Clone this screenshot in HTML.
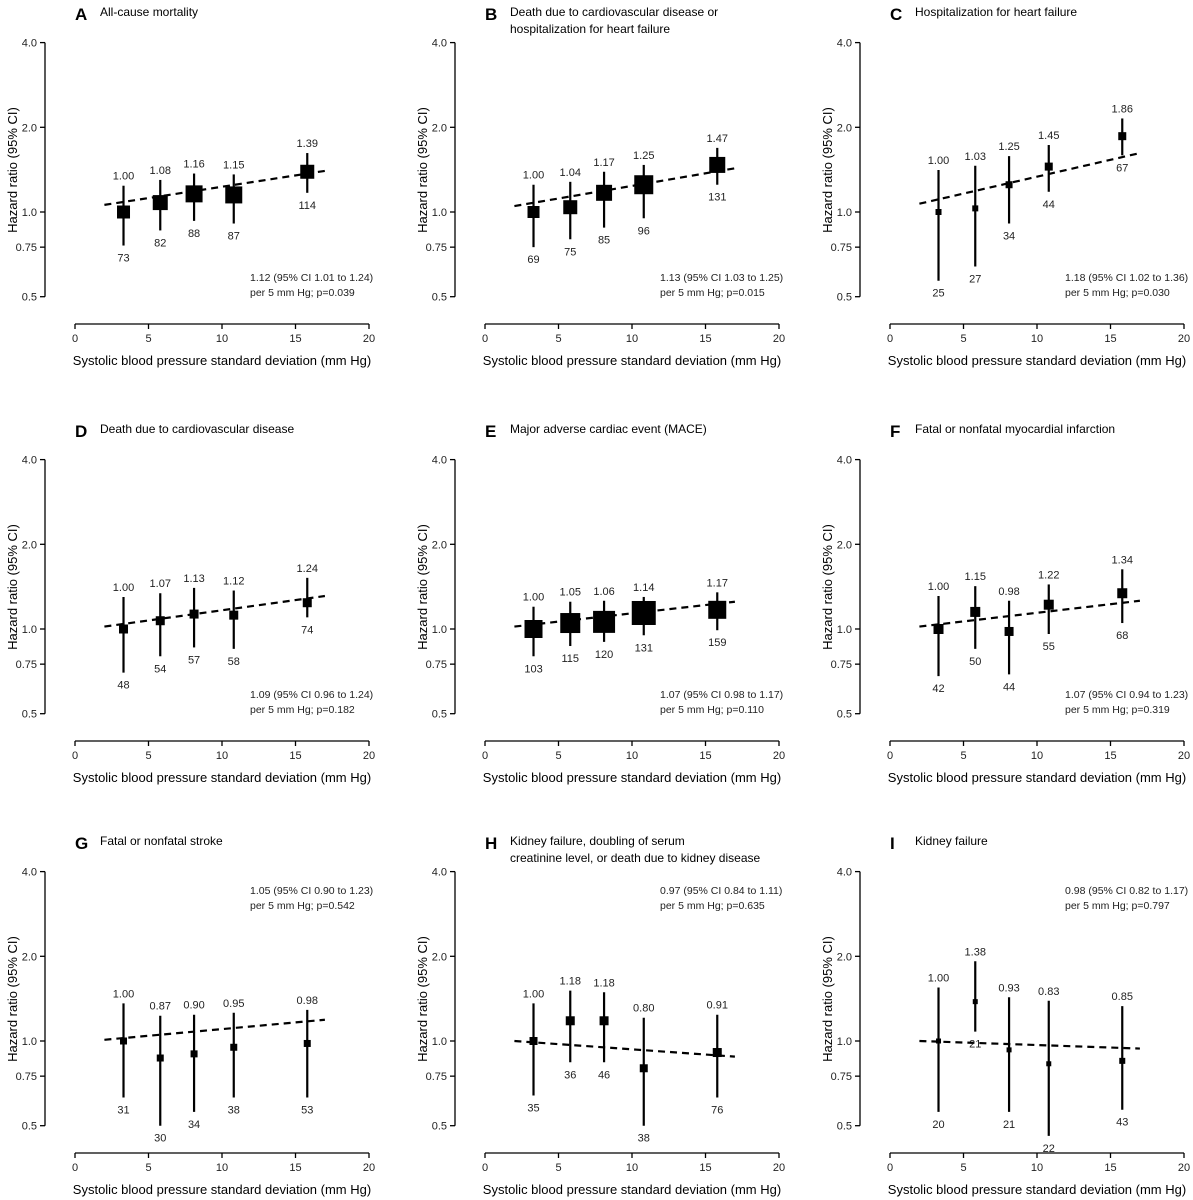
<!DOCTYPE html>
<html><head><meta charset="utf-8"><style>
body{margin:0;background:#fff}
svg{display:block;font-family:"Liberation Sans",Arial,sans-serif}
</style></head><body>
<svg id="chart" width="1193" height="1200" xmlns="http://www.w3.org/2000/svg"></svg>
<script>
const xVals = [3.3, 5.8, 8.1, 10.8, 15.8];
const letters = ["A","B","C","D","E","F","G","H","I"];
const titles = [["All-cause mortality"],["Death due to cardiovascular disease or","hospitalization for heart failure"],["Hospitalization for heart failure"],["Death due to cardiovascular disease"],["Major adverse cardiac event (MACE)"],["Fatal or nonfatal myocardial infarction"],["Fatal or nonfatal stroke"],["Kidney failure, doubling of serum","creatinine level, or death due to kidney disease"],["Kidney failure"]];
const hrA=[1.00,1.08,1.16,1.15,1.39], loA=[0.76,0.86,0.93,0.91,1.17], hiA=[1.24,1.30,1.37,1.36,1.62], evA=[73,82,88,87,114];
const hrB=[1.00,1.04,1.17,1.25,1.47], loB=[0.75,0.80,0.88,0.95,1.25], hiB=[1.25,1.28,1.39,1.47,1.69], evB=[69,75,85,96,131];
const hrC=[1.00,1.03,1.25,1.45,1.86], loC=[0.57,0.64,0.91,1.18,1.59], hiC=[1.41,1.46,1.58,1.73,2.15], evC=[25,27,34,44,67];
const hrD=[1.00,1.07,1.13,1.12,1.24], loD=[0.70,0.80,0.86,0.85,1.10], hiD=[1.30,1.34,1.40,1.37,1.52], evD=[48,54,57,58,74];
const hrE=[1.00,1.05,1.06,1.14,1.17], loE=[0.80,0.87,0.90,0.95,0.99], hiE=[1.20,1.25,1.26,1.30,1.35], evE=[103,115,120,131,159];
const hrF=[1.00,1.15,0.98,1.22,1.34], loF=[0.68,0.85,0.69,0.96,1.05], hiF=[1.31,1.42,1.26,1.44,1.63], evF=[42,50,44,55,68];
const hrG=[1.00,0.87,0.90,0.95,0.98], loG=[0.63,0.50,0.56,0.63,0.63], hiG=[1.36,1.23,1.24,1.26,1.29], evG=[31,30,34,38,53];
const hrH=[1.00,1.18,1.18,0.80,0.91], loH=[0.64,0.84,0.84,0.50,0.63], hiH=[1.36,1.51,1.49,1.21,1.24], evH=[35,36,46,38,76];
const hrI=[1.00,1.38,0.93,0.83,0.85], loI=[0.56,1.08,0.56,0.46,0.57], hiI=[1.55,1.92,1.43,1.39,1.33], evI=[20,21,21,22,43];
const trendStart=[1.06,1.05,1.07,1.02,1.02,1.02,1.01,1.00,1.00];
const trendEnd=[1.40,1.43,1.62,1.31,1.25,1.26,1.19,0.88,0.94];
const stats=[["1.12 (95% CI 1.01 to 1.24)","per 5 mm Hg; p=0.039"],["1.13 (95% CI 1.03 to 1.25)","per 5 mm Hg; p=0.015"],["1.18 (95% CI 1.02 to 1.36)","per 5 mm Hg; p=0.030"],["1.09 (95% CI 0.96 to 1.24)","per 5 mm Hg; p=0.182"],["1.07 (95% CI 0.98 to 1.17)","per 5 mm Hg; p=0.110"],["1.07 (95% CI 0.94 to 1.23)","per 5 mm Hg; p=0.319"],["1.05 (95% CI 0.90 to 1.23)","per 5 mm Hg; p=0.542"],["0.97 (95% CI 0.84 to 1.11)","per 5 mm Hg; p=0.635"],["0.98 (95% CI 0.82 to 1.17)","per 5 mm Hg; p=0.797"]];
const yTicks=[4.0,2.0,1.0,0.75,0.5];
const yTickLabels=["4.0","2.0","1.0","0.75","0.5"];
const xTicks=[0,5,10,15,20];
const panels=[[hrA,loA,hiA,evA],[hrB,loB,hiB,evB],[hrC,loC,hiC,evC],[hrD,loD,hiD,evD],[hrE,loE,hiE,evE],[hrF,loF,hiF,evF],[hrG,loG,hiG,evG],[hrH,loH,hiH,evH],[hrI,loI,hiI,evI]];
const sqSizes=[[13,15,17,17,14],[12,14,16,19,16],[6,6,7,8,8],[9,9,9,9,9],[18,20,22,24,18],[10,10,9,10,10],[7,7,7,7,7],[8,9,9,8,9],[5,5,5,5,6]];

const svg=document.getElementById('chart');
const NS="http://www.w3.org/2000/svg";
function mk(tag,attrs,parent){const e=document.createElementNS(NS,tag);for(const k in attrs)e.setAttribute(k,attrs[k]);parent.appendChild(e);return e;}
function txt(s,attrs,parent){const e=mk('text',attrs,parent);e.textContent=s;return e;}

const rowY4=[43,460,872];
const colX=[0,410,815];
for(let p=0;p<9;p++){
  const col=p%3,row=Math.floor(p/3);
  const ox=colX[col], y4=rowY4[row];
  const y1=y4+169;
  const sy=v=>y1-Math.log2(v)*84.7;
  const sx=v=>ox+75+v*14.7;
  const g=mk('g',{},svg);
  
  
  const L=txt(letters[p],{x:ox+75,y:y4-23,'font-size':17,'font-weight':'bold'},g);
  
  
  titles[p].forEach((t,i)=>{const e=txt(t,{x:ox+100,y:y4-27+i*17,'font-size':12},g);
    
    });
  const ya=mk('line',{x1:ox+45,x2:ox+45,y1:sy(4),y2:sy(0.5),stroke:'#000','stroke-width':1.3},g);
  
  
  yTicks.forEach((v,i)=>{mk('line',{x1:ox+40,x2:ox+45,y1:sy(v),y2:sy(v),stroke:'#000','stroke-width':1.3},g);
    const t=txt(yTickLabels[i],{x:ox+37,y:sy(v)+4,'font-size':11,'text-anchor':'end',fill:'#222'},g);
    
    });
  const yt=txt('Hazard ratio (95% CI)',{x:0,y:0,'font-size':13,'text-anchor':'middle',transform:`translate(${ox+17},${y4+127}) rotate(-90)`},g);
  
  
  const xa0=y4+281;
  const xa=mk('line',{x1:sx(0),x2:sx(20),y1:xa0,y2:xa0,stroke:'#000','stroke-width':1.3},g);
  
  
  xTicks.forEach(v=>{mk('line',{x1:sx(v),x2:sx(v),y1:xa0,y2:xa0+5,stroke:'#000','stroke-width':1.3},g);
    const t=txt(String(v),{x:sx(v),y:xa0+18,'font-size':11,'text-anchor':'middle',fill:'#222'},g);
    
    });
  const xt=txt('Systolic blood pressure standard deviation (mm Hg)',{x:ox+222,y:xa0+41,'font-size':13,'text-anchor':'middle'},g);
  
  
  const tl=mk('line',{x1:sx(2),x2:sx(17),y1:sy(trendStart[p]),y2:sy(trendEnd[p]),stroke:'#000','stroke-width':2.2,'stroke-dasharray':'7,5'},g);
  
  
  const [hr,lo,hi,ev]=panels[p];
  for(let i=0;i<5;i++){
    const x=sx(xVals[i]);
    const ci=mk('line',{x1:x,x2:x,y1:sy(hi[i]),y2:sy(lo[i]),stroke:'#000','stroke-width':2.2},g);
    
    
    const s=sqSizes[p][i];
    const r=mk('rect',{x:x-s/2,y:sy(hr[i])-s/2,width:s,height:s,fill:'#000'},g);
    
    
    const a=txt(hr[i].toFixed(2),{x:x,y:sy(hi[i])-6,'font-size':11,'text-anchor':'middle',fill:'#222'},g);
    
    
    const b=txt(String(ev[i]),{x:x,y:sy(lo[i])+16,'font-size':11,'text-anchor':'middle',fill:'#222'},g);
    
    
  }
  const sty=row<2?y4+238:y4+22;
  stats[p].forEach((t,i)=>{const e=txt(t,{x:ox+250,y:sty+i*15,'font-size':10.5,fill:'#222'},g);
    
    });
}
</script>
</body></html>
